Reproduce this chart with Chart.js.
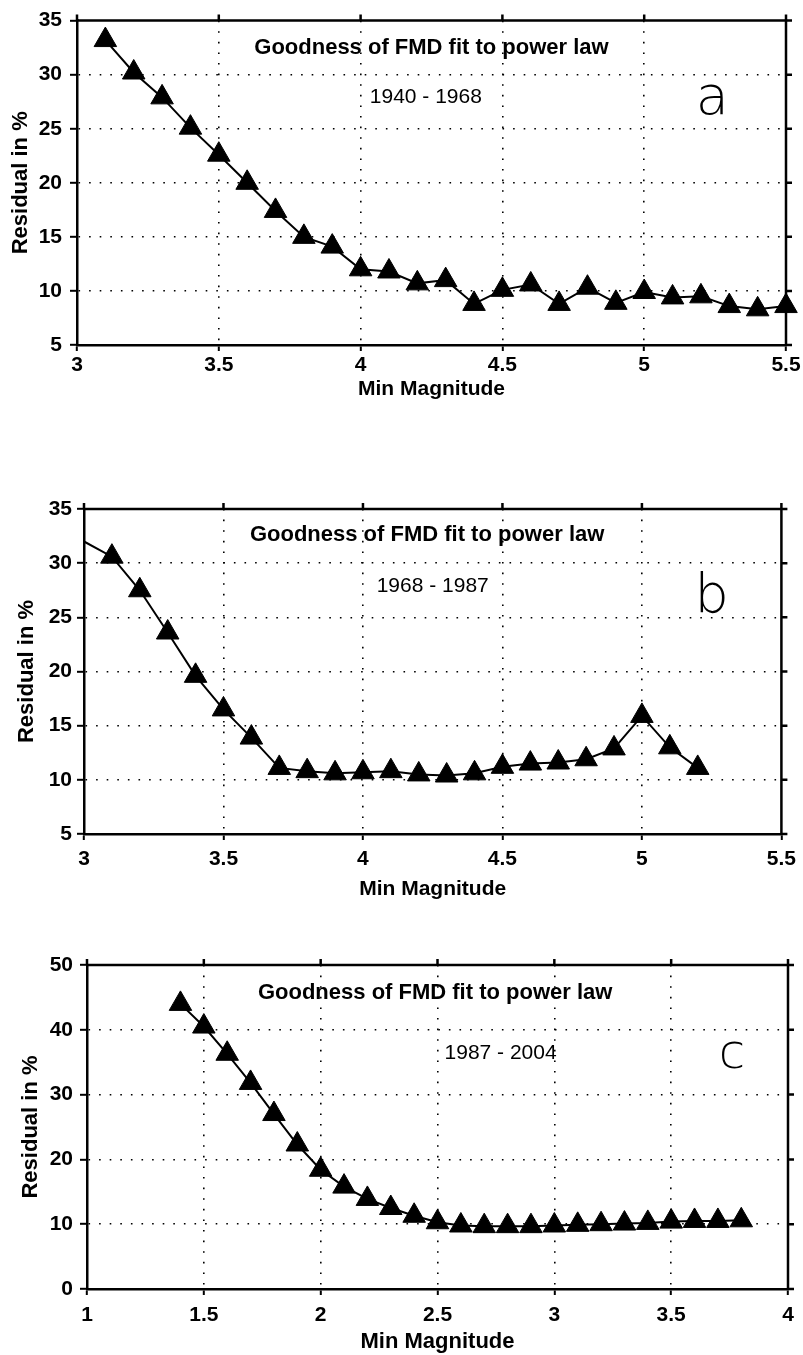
<!DOCTYPE html>
<html><head><meta charset="utf-8">
<script src="https://cdn.jsdelivr.net/npm/chart.js@4.4.1/dist/chart.umd.min.js"></script>
<style>
html,body{margin:0;padding:0;background:#fff;}
body{width:803px;height:1355px;position:relative;overflow:hidden;}
.box{position:absolute;left:0;width:803px;}
</style></head><body>
<div class="box" style="top:0;height:402px"><canvas id="cA"></canvas></div>
<div class="box" style="top:470px;height:432px"><canvas id="cB"></canvas></div>
<div class="box" style="top:920px;height:435px"><canvas id="cC"></canvas></div>
<script>
// ---- data ----
const magA = [3.1,3.2,3.3,3.4,3.5,3.6,3.7,3.8,3.9,4.0,4.1,4.2,4.3,4.4,4.5,4.6,4.7,4.8,4.9,5.0,5.1,5.2,5.3,5.4,5.5];
const resA = [33.2,30.2,27.9,25.1,22.6,20.0,17.4,15.0,14.1,12.0,11.8,10.7,11.0,8.8,10.1,10.6,8.8,10.3,8.9,9.9,9.4,9.5,8.6,8.3,8.6];
const magB = [3.0,3.1,3.2,3.3,3.4,3.5,3.6,3.7,3.8,3.9,4.0,4.1,4.2,4.3,4.4,4.5,4.6,4.7,4.8,4.9,5.0,5.1,5.2];
const resB = [32.0,30.6,27.5,23.6,19.6,16.5,13.9,11.1,10.8,10.6,10.7,10.8,10.5,10.4,10.6,11.2,11.5,11.6,11.9,12.9,15.9,13.0,11.1];
const magC = [1.4,1.5,1.6,1.7,1.8,1.9,2.0,2.1,2.2,2.3,2.4,2.5,2.6,2.7,2.8,2.9,3.0,3.1,3.2,3.3,3.4,3.5,3.6,3.7,3.8];
const resC = [44.0,40.5,36.3,31.8,27.0,22.3,18.4,15.8,13.9,12.5,11.3,10.3,9.8,9.7,9.7,9.7,9.8,9.9,10.0,10.1,10.2,10.4,10.5,10.5,10.6];
const xRangeA = [3, 5.5], yRangeA = [5, 35];
const xRangeB = [3, 5.5], yRangeB = [5, 35];
const xRangeC = [1, 4],   yRangeC = [0, 50];
const xTitle = 'Min Magnitude';
const yTitle = 'Residual in %';
const plotTitle = 'Goodness of FMD fit to power law';
const periods = ['1940 - 1968', '1968 - 1987', '1987 - 2004'];
const panelLetters = ['a', 'b', 'c'];

const F = "'Liberation Sans', Arial, sans-serif";

function framePlugin(p) {
  return {
    id: 'frame',
    beforeDatasetsDraw(chart) {
      const {ctx, chartArea: {left, right, top, bottom}, scales: {x, y}} = chart;
      ctx.save();
      ctx.strokeStyle = '#000';
      ctx.lineWidth = 2.5;
      ctx.beginPath();
      ctx.moveTo(left, top); ctx.lineTo(right, top); ctx.lineTo(right, bottom);
      x.ticks.forEach(t => { const px = x.getPixelForValue(t.value); ctx.moveTo(px, top); ctx.lineTo(px, top - 6); });
      y.ticks.forEach(t => { const py = y.getPixelForValue(t.value); ctx.moveTo(right, py); ctx.lineTo(right + 6, py); });
      ctx.stroke();
      ctx.fillStyle = '#000';
      ctx.textAlign = 'center';
      ctx.textBaseline = 'middle';
      ctx.font = 'bold ' + p.headSize + 'px ' + F;
      ctx.fillText(plotTitle, x.getPixelForValue(p.head[0]), y.getPixelForValue(p.head[1]));
      ctx.font = p.periodSize + 'px ' + F;
      ctx.fillText(p.period, x.getPixelForValue(p.per[0]), y.getPixelForValue(p.per[1]));
      ctx.textBaseline = 'alphabetic';
      ctx.font = '200 ' + p.letterSize + 'px "DejaVu Sans", sans-serif';
      ctx.fillText(p.letter, x.getPixelForValue(p.let[0]), y.getPixelForValue(p.let[1]));
      ctx.restore();
    }
  };
}

// hide the dotted grid line where it coincides with the solid frame
const edgeColor = c => (c.index === 0 || c.index === c.scale.ticks.length - 1) ? 'rgba(0,0,0,0)' : '#000';

function build(id, mags, res, xr, yr, p) {
  const data = mags.map((m, i) => ({x: m, y: res[i]}));
  const radii = mags.map((m, i) => (p.hideFirst && i === 0) ? 0 : 13);
  return new Chart(document.getElementById(id), {
    type: 'line',
    data: {datasets: [{
      data, borderColor: '#000', borderWidth: 2, tension: 0, clip: false,
      pointStyle: 'triangle', pointRadius: radii, pointHoverRadius: radii,
      pointBackgroundColor: '#000', pointBorderColor: '#000', pointBorderWidth: 1
    }]},
    options: {
      responsive: true, maintainAspectRatio: false, animation: false, events: [],
      layout: {padding: {top: p.top, right: p.right, left: 0, bottom: 0}},
      plugins: {legend: {display: false}, tooltip: {enabled: false}},
      scales: {
        x: {
          type: 'linear', min: xr[0], max: xr[1],
          ticks: {stepSize: 0.5, autoSkip: false, maxRotation: 0, color: '#000', padding: p.xPad,
                  font: {family: F, size: p.tickSize, weight: 'bold'},
                  callback: v => String(Math.round(v * 10) / 10)},
          grid: {color: edgeColor, lineWidth: 1.6, drawTicks: true, tickLength: 6, tickColor: '#000', tickWidth: 2, tickBorderDash: []},
          border: {display: true, color: '#000', width: 2.5, dash: [1.6, 9]},
          title: {display: true, text: xTitle, color: '#000', font: {family: F, size: p.xtSize, weight: 'bold'}, padding: {top: 0, bottom: p.xtPad}},
          afterFit: s => { s.height = p.xh; }
        },
        y: {
          type: 'linear', min: yr[0], max: yr[1],
          ticks: {stepSize: p.yStep, color: '#000', padding: p.yPad,
                  font: {family: F, size: p.tickSize, weight: 'bold'}},
          grid: {color: edgeColor, lineWidth: 1.6, drawTicks: true, tickLength: 7, tickColor: '#000', tickWidth: 2, tickBorderDash: []},
          border: {display: true, color: '#000', width: 2.5, dash: [1.6, 9]},
          title: {display: true, text: yTitle, color: '#000', font: {family: F, size: 22, weight: 'bold'}, padding: {top: p.ytPad, bottom: 0}},
          afterFit: s => { s.width = p.yw; }
        }
      }
    },
    plugins: [framePlugin(p)]
  });
}

build('cA', magA, resA, xRangeA, yRangeA, {
  top: 15, right: 17, xh: 57, yw: 77, xPad: 2, yPad: 8, xtPad: 0, ytPad: 8, xtSize: 21, tickSize: 21, yStep: 5,
  headSize: 22, periodSize: 21, letterSize: 54, period: periods[0], letter: panelLetters[0],
  head: [4.25, 32.5], per: [4.23, 27.9], let: [5.24, 26.36]
});
build('cB', magB, resB, xRangeB, yRangeB, {
  top: 39, right: 20, xh: 68, yw: 84, xPad: 7, yPad: 5, xtPad: 0, ytPad: 14, xtSize: 21, tickSize: 21, yStep: 5, hideFirst: true,
  headSize: 22, periodSize: 21, letterSize: 54, period: periods[1], letter: panelLetters[1],
  head: [4.23, 32.6], per: [4.25, 27.9], let: [5.25, 25.5]
});
build('cC', magC, resC, xRangeC, yRangeC, {
  top: 45, right: 15, xh: 66, yw: 87, xPad: 8, yPad: 7, xtPad: 0, ytPad: 18, xtSize: 22, tickSize: 21, yStep: 10,
  headSize: 22, periodSize: 21, letterSize: 48, period: periods[2], letter: panelLetters[2],
  head: [2.49, 45.7], per: [2.77, 36.4], let: [3.76, 34.1]
});
</script>
</body></html>
